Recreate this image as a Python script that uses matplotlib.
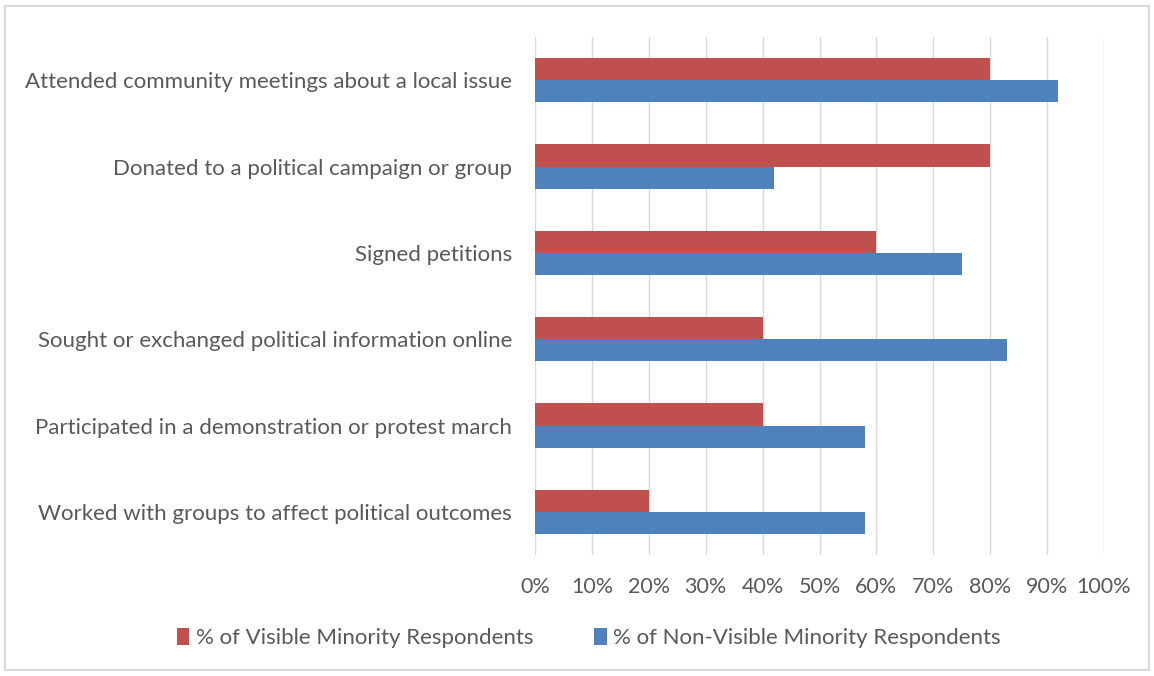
import matplotlib.pyplot as plt
from matplotlib.patches import Rectangle
from matplotlib.ticker import PercentFormatter
import numpy as np

categories = [
    "Attended community meetings about a local issue",
    "Donated to a political campaign or group",
    "Signed petitions",
    "Sought or exchanged political information online",
    "Participated in a demonstration or protest march",
    "Worked with groups to affect political outcomes",
]
visible = [80, 80, 60, 40, 40, 20]
non_visible = [92, 42, 75, 83, 58, 58]
series_names = [
    "% of Visible Minority Respondents",
    "% of Non-Visible Minority Respondents",
]

RED = "#c0504d"
BLUE = "#4f81bd"
TXT = "#595959"

plt.rcParams["font.family"] = ["Lato", "DejaVu Sans"]

fig = plt.figure(figsize=(11.54, 6.76), dpi=100)
ax = fig.add_axes([535 / 1154, 1 - 555 / 676, (1104 - 535) / 1154, (555 - 37) / 676])

# outer frame of the chart area
fig.patches.append(Rectangle((5 / 1154, 6 / 676), 1144 / 1154, 664 / 676,
                             transform=fig.transFigure, fill=False,
                             edgecolor="#d9d9d9", linewidth=1.5))

y = np.arange(len(categories))
h = 0.255
ax.barh(y - h / 2, visible, height=h, color=RED, label=series_names[0], zorder=3)
ax.barh(y + h / 2, non_visible, height=h, color=BLUE, label=series_names[1], zorder=3)

ax.set_ylim(len(categories) - 0.5, -0.5)
ax.set_xlim(0, 100)
ax.set_xticks(np.arange(0, 101, 10))
ax.xaxis.set_major_formatter(PercentFormatter(decimals=0))
ax.set_yticks(y)
ax.set_yticklabels(categories)

ax.grid(axis="x", color="#d9d9d9", linewidth=1, zorder=0)
for s in ax.spines.values():
    s.set_visible(False)
ax.tick_params(axis="both", length=0, colors=TXT)
ax.tick_params(axis="x", pad=16, labelsize=15.5)
ax.tick_params(axis="y", pad=16.5, labelsize=16)

leg = fig.legend(loc="center", bbox_to_anchor=(589 / 1154, 1 - 638 / 676), ncol=2,
                 frameon=False, fontsize=16, handlelength=0.55, handleheight=0.8,
                 handletextpad=0.3, columnspacing=2.75)
for t in leg.get_texts():
    t.set_color(TXT)

fig.savefig("out.png", dpi=100)
